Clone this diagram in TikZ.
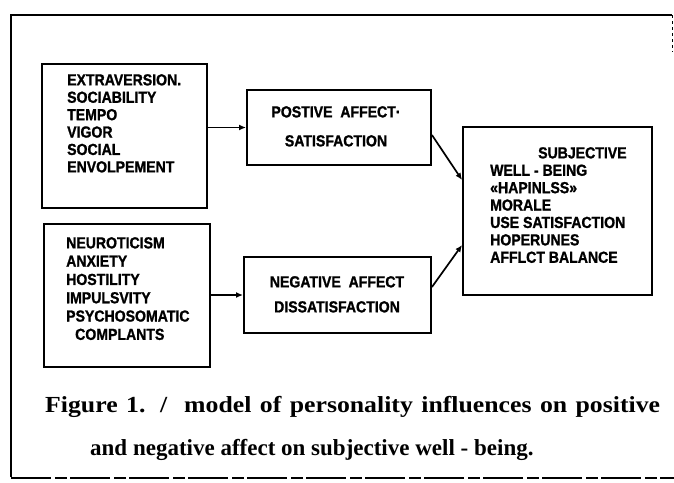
\documentclass[tikz,border=0pt]{standalone}
\usepackage{fontspec}
\setmainfont{Liberation Serif}
\newfontfamily\boxfont[FakeStretch=0.88, BoldFeatures={FakeBold=1.2}]{Liberation Sans}
\usetikzlibrary{arrows.meta}
\tikzset{
  box/.style={draw, line width=1.9pt, inner sep=0pt},
  txt/.style={font=\boxfont\bfseries\fontsize{16}{17.4}\selectfont, align=left, inner sep=0pt, anchor=north west},
  ctxt/.style={font=\boxfont\bfseries\fontsize{16}{#1}\selectfont, align=center, inner sep=0pt, anchor=north},
  conn/.style={line width=1.7pt, -{Latex[length=7pt,width=6pt]}},
  captxt/.style={font=\bfseries\fontsize{23}{26}\selectfont, inner sep=0pt, anchor=base west}
}
\begin{document}
\begin{tikzpicture}[x=1pt,y=-1pt]
\useasboundingbox (0,0) rectangle (674,482);
% frame
\draw[line width=2.2pt] (11,477) -- (11,15) -- (672,15);
\draw[line width=0.6pt, dashed] (672,15) -- (672,52);
\draw[line width=2pt, dash pattern=on 40pt off 4pt on 12pt off 3pt] (11,478) -- (674,478);
% boxes
\node[box, minimum width=165pt, minimum height=144pt] (b1) at (124.5,136) {};
\node[box, minimum width=166pt, minimum height=143pt] (b2) at (127,295.5) {};
\node[box, minimum width=184pt, minimum height=75pt] (b3) at (339,127.5) {};
\node[box, minimum width=187pt, minimum height=76pt] (b4) at (337.5,295) {};
\node[box, minimum width=189pt, minimum height=168pt] (b5) at (557.5,211) {};
% texts
\node[txt] (t1) at (67,74) {EXTRAVERSION.\\SOCIABILITY\\TEMPO\\VIGOR\\SOCIAL\\ENVOLPEMENT};
\node[txt, font=\boxfont\bfseries\fontsize{16}{18.3}\selectfont] (t2) at (66,237) {NEUROTICISM\\ANXIETY\\HOSTILITY\\IMPULSVITY\\PSYCHOSOMATIC\\\hspace*{9pt}COMPLANTS};
\node[ctxt=29] (t3) at (336,106) {POSTIVE\ \ AFFECT·\\SATISFACTION};
\node[ctxt=25] (t4) at (337,276) {NEGATIVE\ \ AFFECT\\DISSATISFACTION};
\node[txt] (t5) at (490,147) {\hspace*{48pt}SUBJECTIVE\\WELL - BEING\\«HAPINLSS»\\MORALE\\USE SATISFACTION\\HOPERUNES\\AFFLCT BALANCE};
% connectors
\draw[conn] (b1.east |- b3.west) -- (b3.west);
\draw[conn] (b2.east |- b4.west) -- (b4.west);
\draw[conn] ([yshift=-7.5pt]b3.east) -- ([yshift=31pt]b5.west);
\draw[conn] ([yshift=8pt]b4.east) -- ([yshift=-34pt]b5.west);
% caption
\node[captxt] (c1) at (45,412) {\scalebox{1.12}[1]{\makebox[549pt][s]{Figure 1. /\ \ model of personality influences on positive}}};
\node[captxt] (c2) at (90,455) {and negative affect on subjective well - being.};
\end{tikzpicture}
\end{document}
